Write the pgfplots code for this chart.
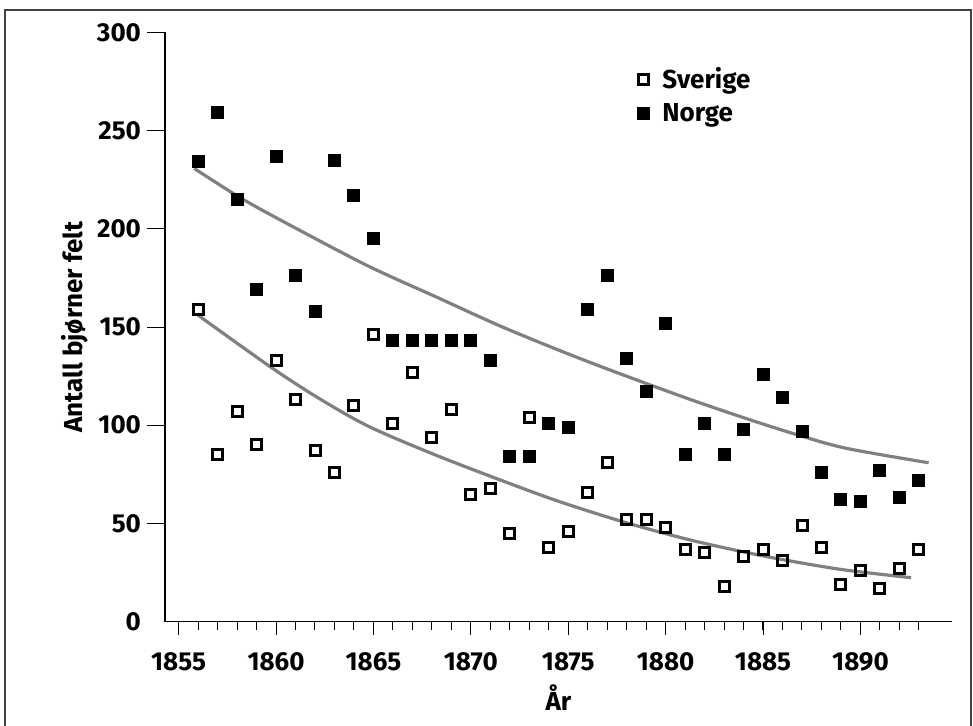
\documentclass[border=0pt]{standalone}
\usepackage{fontspec}
\setmainfont{Fira Sans}
\usepackage{pgfplots}
\pgfplotsset{compat=1.18}
\newcommand{\lblfont}{\bfseries\fontsize{13}{15}\selectfont}
\pgfplotsset{myleg/.style={legend image code/.code={\path (0cm,0cm) (0.55cm,0cm); \draw[##1] plot coordinates {(0.3cm,0cm)};}}}
\begin{document}
\begin{tikzpicture}
\begin{axis}[
  scale only axis, width=393.5pt, height=294.7pt,
  xmin=1854.3, xmax=1894.7, ymin=0, ymax=300,
  axis lines=left, axis line style={-, line width=0.7pt},
  tick align=outside,
  tick style={black, line width=0.5pt},
  major tick length=0pt, minor tick length=4pt,
  xtick={1855,1860,...,1890}, minor xtick={1855,...,1893},
  extra x ticks={1855,1860,...,1890},
  extra x tick labels={},
  extra x tick style={major tick length=6.5pt},
  ytick={0,50,...,300},
  extra y ticks={50,100,...,300},
  extra y tick labels={},
  extra y tick style={major tick length=9pt},
  /pgf/number format/assume math mode=true,
  /pgf/number format/1000 sep={},
  tick label style={font=\lblfont},
  xticklabel style={yshift=-12pt},
  yticklabel style={xshift=-8.5pt},
  xlabel={År}, ylabel={Antall bjørner felt},
  label style={font=\lblfont},
  xlabel style={at={(axis description cs:0.5,-0.128)}, anchor=center},
  ylabel style={at={(axis description cs:-0.1144,0.5)}, anchor=center},
  legend style={at={(rel axis cs:0.578,0.955)}, anchor=north west, draw=none, fill=none, font=\lblfont, row sep=2pt},
  legend cell align=left,
]
\addplot[forget plot, smooth, color=black!50, line width=1.6pt] coordinates {
(1855.8,230.7) (1858.3,215) (1861.2,199.3) (1864.8,180.7) (1868.2,165.4) (1871.6,150.1) (1875.0,136.3) (1877.9,125.3) (1881.3,113) (1884.2,103.2) (1886.8,95) (1889.3,88.2) (1893.5,80.9)};
\addplot[forget plot, smooth, color=black!50, line width=1.6pt] coordinates {
(1856,156) (1859.7,129.8) (1862.2,113.7) (1864.8,99.2) (1868.2,84.8) (1871.6,71.8) (1874.5,61.3) (1877.9,50.6) (1881.3,41.5) (1884.5,34.5) (1886.8,30.2) (1889.3,26.2) (1892.6,22.4)};
\addplot[only marks, myleg, mark=square, mark size=2.5pt, mark options={line width=1.5pt, draw=black, fill=white}] coordinates {
(1856,159) (1857,85) (1858,107) (1859,90) (1860,133) (1861,113) (1862,87) (1863,76) (1864,110) (1865,146) (1866,101) (1867,127) (1868,94) (1869,108) (1870,65) (1871,68) (1872,45) (1873,104) (1874,38) (1875,46) (1876,66) (1877,81) (1878,52) (1879,52) (1880,48) (1881,37) (1882,35) (1883,18) (1884,33) (1885,37) (1886,31) (1887,49) (1888,38) (1889,19) (1890,26) (1891,17) (1892,27) (1893,37)};
\addlegendentry{Sverige}
\addplot[only marks, myleg, mark=square*, mark size=3pt, mark options={line width=0.5pt, draw=black, fill=black}] coordinates {
(1856,234) (1857,259) (1858,215) (1859,169) (1860,237) (1861,176) (1862,158) (1863,235) (1864,217) (1865,195) (1866,143) (1867,143) (1868,143) (1869,143) (1870,143) (1871,133) (1872,84) (1873,84) (1874,101) (1875,99) (1876,159) (1877,176) (1878,134) (1879,117) (1880,152) (1881,85) (1882,101) (1883,85) (1884,98) (1885,126) (1886,114) (1887,97) (1888,76) (1889,62) (1890,61) (1891,77) (1892,63) (1893,72)};
\addlegendentry{Norge}
\end{axis}
\draw[black!75, line width=1pt] (-79.75pt,-60pt) rectangle (403pt,305.85pt);
\pgfresetboundingbox
\useasboundingbox (-82.5pt,-51.65pt) rectangle (404pt,310.85pt);
\end{tikzpicture}
\end{document}
